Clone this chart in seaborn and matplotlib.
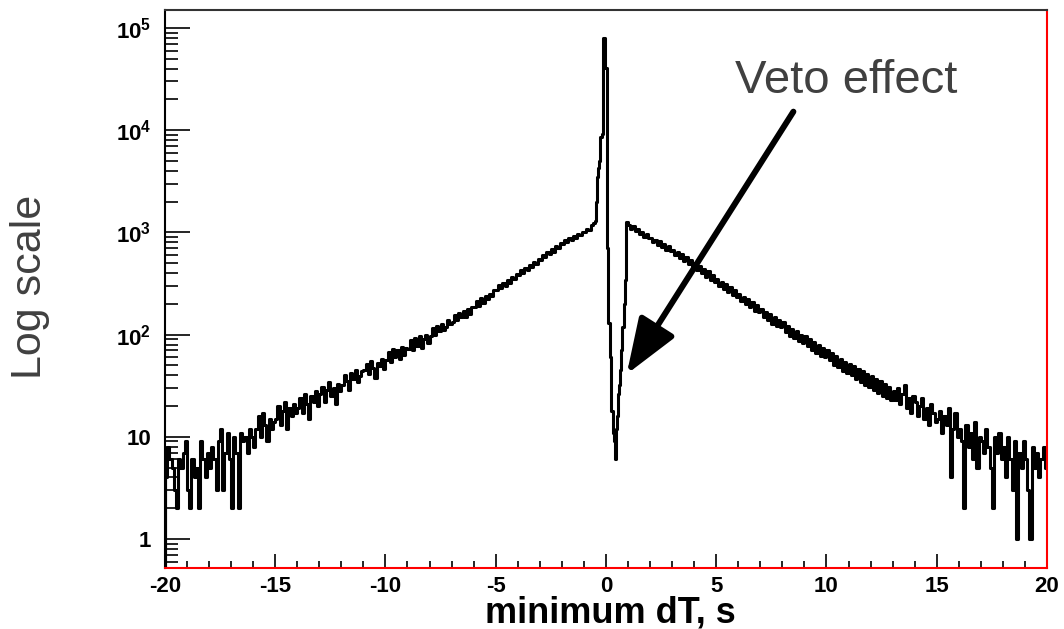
import numpy as np
import pandas as pd
import seaborn as sns
import matplotlib.pyplot as plt
from matplotlib.ticker import FixedLocator, FuncFormatter, LogLocator

# ---------------- data (counts per bin) ----------------
# left tail: -20.0 .. -0.5, 0.1 s bins
left_counts = [
    4, 8, 6, 5, 3, 2, 6, 5, 7, 9,
    3, 2, 6, 4, 5, 2, 9, 6, 4, 7,
    5, 8, 6, 3, 9, 12, 3, 7, 11, 6,
    2, 10, 7, 2, 11, 9, 10, 7, 12, 10,
    8, 12, 16, 10, 17, 13, 9, 15, 12, 14,
    15, 20, 13, 18, 22, 12, 19, 16, 21, 17,
    19, 24, 17, 26, 21, 15, 25, 22, 28, 20,
    26, 31, 22, 29, 34, 25, 30, 21, 33, 28,
    32, 40, 35, 29, 42, 37, 45, 34, 39, 44,
    45, 52, 41, 55, 47, 38, 53, 49, 58, 46,
    56, 68, 54, 72, 60, 70, 58, 76, 63, 74,
    72, 88, 70, 92, 78, 96, 74, 90, 100, 82,
    96, 115, 100, 122, 108, 128, 110, 120, 140, 126,
    132, 155, 138, 162, 148, 170, 150, 178, 160, 186,
    185, 212, 192, 226, 205, 240, 222, 252, 236, 275,
    272, 305, 288, 318, 300, 345, 322, 368, 350, 392,
    380, 425, 405, 452, 430, 482, 458, 512, 490, 550,
    540, 605, 575, 640, 620, 682, 650, 735, 705, 790,
    770, 850, 810, 880, 845, 925, 890, 975, 940, 1020,
    1000, 1090, 1060, 1180, 1250,
]
# central region: -0.5 .. 0.9, 0.05 s bins
mid_counts = [
    1300, 2000, 3500, 4300, 5000, 8500, 9200, 80000, 80000, 41000,
    41000, 700, 130, 130, 60, 18, 11, 9, 6, 12,
    16, 26, 32, 45, 70, 120, 200, 340,
]
# right tail: 0.9 .. 20.0, 0.1 s bins
right_counts = [
    1270,
    1180, 1090, 1150, 1030, 1080, 960, 1020, 910, 960, 880,
    890, 800, 850, 760, 815, 720, 770, 680, 735, 660,
    680, 600, 640, 560, 610, 530, 575, 495, 540, 470,
    500, 430, 470, 400, 440, 370, 415, 345, 385, 330,
    350, 300, 330, 280, 312, 262, 295, 245, 275, 232,
    250, 212, 235, 198, 222, 185, 210, 172, 196, 165,
    180, 150, 168, 140, 158, 128, 150, 122, 140, 118,
    132, 106, 122, 98, 114, 92, 108, 86, 100, 82,
    96, 78, 90, 70, 84, 66, 80, 62, 74, 60,
    70, 56, 66, 50, 62, 48, 58, 44, 54, 42,
    52, 40, 49, 37, 46, 34, 44, 32, 41, 31,
    39, 29, 37, 27, 35, 25, 33, 24, 31, 23,
    28, 23, 30, 21, 26, 32, 19, 24, 17, 25,
    22, 16, 20, 24, 15, 19, 13, 21, 17, 14,
    15, 18, 11, 16, 13, 19, 4, 12, 17, 10,
    12, 9, 2, 13, 8, 11, 6, 14, 5, 10,
    9, 7, 12, 8, 5, 2, 10, 7, 11, 6,
    8, 4, 10, 6, 3, 9, 1, 7, 5, 9,
    6, 3, 1, 8, 5, 7, 4, 6, 8, 5,
]

left_edges = np.linspace(-20, -0.5, len(left_counts) + 1)
mid_edges = np.linspace(-0.5, 0.9, len(mid_counts) + 1)
right_edges = np.linspace(0.9, 20, len(right_counts) + 1)
edges = np.concatenate([left_edges, mid_edges[1:], right_edges[1:]])
counts = np.array(left_counts + mid_counts + right_counts, dtype=float)
centers = 0.5 * (edges[:-1] + edges[1:])

df = pd.DataFrame({"dT": centers, "n": counts})

# ---------------- plot ----------------
sns.set_style("ticks")
plt.rcParams["font.family"] = ["Liberation Sans", "DejaVu Sans"]
plt.rcParams["mathtext.fontset"] = "custom"
plt.rcParams["mathtext.bf"] = "Liberation Sans:bold"
plt.rcParams["mathtext.rm"] = "Liberation Sans:bold"
plt.rcParams["axes.unicode_minus"] = False

fig = plt.figure(figsize=(10.64, 6.29), dpi=100)
ax = fig.add_axes([0.155, 0.097, 0.829, 0.887])

sns.histplot(data=df, x="dT", weights="n", bins=list(edges), element="step",
             fill=False, color="black", linewidth=2.2, ax=ax)
ax.set_yscale("log")
ax.set_xlim(-20, 20)
ax.set_ylim(0.52, 1.5e5)
# ROOT style drop line at the first bin edge
ax.vlines(edges[0], 0.52, counts[0], color="black", linewidth=3)

# ticks
ax.xaxis.set_major_locator(FixedLocator([-20, -15, -10, -5, 0, 5, 10, 15, 20]))
ax.xaxis.set_minor_locator(FixedLocator(np.arange(-20, 21, 1)))
ax.yaxis.set_major_locator(LogLocator(base=10, numticks=10))
ax.yaxis.set_minor_locator(LogLocator(base=10, subs=np.arange(2, 10), numticks=20))

def yfmt(v, pos):
    e = int(round(np.log10(v)))
    if e == 0:
        return "1"
    if e == 1:
        return "10"
    return r"$\mathbf{10^{%d}}$" % e

ax.yaxis.set_major_formatter(FuncFormatter(yfmt))
ax.tick_params(axis="x", which="major", direction="in", length=10, width=1.2,
               labelsize=16, pad=6, top=False, color="black", labelcolor="black")
ax.tick_params(axis="x", which="minor", direction="in", length=5, width=1.2,
               top=False, color="black")
ax.tick_params(axis="y", which="major", direction="in", length=18, width=1.2,
               labelsize=16, pad=10, right=False, color="black", labelcolor="black")
ax.tick_params(axis="y", which="minor", direction="in", length=9, width=1.2,
               right=False, color="black")
for lab in ax.get_xticklabels() + ax.get_yticklabels():
    lab.set_fontweight("bold")

ax.spines["left"].set_color("black")
ax.spines["top"].set_color("#333333")
ax.spines["right"].set_color("red")
ax.spines["bottom"].set_color("red")
for s in ax.spines.values():
    s.set_linewidth(1.5)
    s.set_visible(True)

ax.set_xlabel("minimum dT, s", fontsize=26, fontweight="bold", color="black")
ax.xaxis.set_label_coords(0.505, -0.05)
ax.set_ylabel("Log scale", fontsize=31, color="#404040")
ax.yaxis.set_label_coords(-0.13, 0.504)

# annotation
ax.annotate("", xy=(0.94, 41), xytext=(8.5, 15200),
            arrowprops=dict(arrowstyle="-|>,head_length=1.7,head_width=0.63",
                            mutation_scale=20, lw=4.3, color="black",
                            shrinkA=0, shrinkB=0))
ax.text(10.88, 23200, "Veto effect", fontsize=34, color="#404040",
        ha="center", va="baseline")

plt.savefig("out.png", dpi=100)
